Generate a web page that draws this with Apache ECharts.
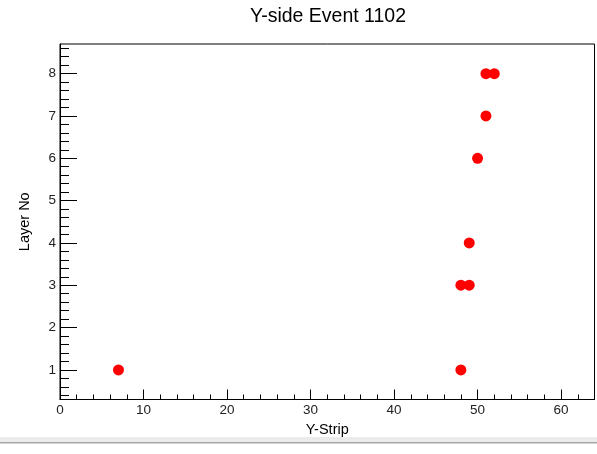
<!DOCTYPE html>
<html>
<head>
<meta charset="utf-8">
<title>Y-side Event 1102</title>
<script src="https://cdn.jsdelivr.net/npm/echarts@6/dist/echarts.min.js"></script>
<style>
  html, body { margin: 0; padding: 0; background: #ffffff; }
  #chart { width: 597px; height: 454px; }
</style>
</head>
<body>
<div id="chart"></div>
<script>
// Hit positions for this event: strip number and layer number
const strips = [7, 48, 48, 49, 49, 50, 51, 51, 52];
const layers = [1, 1, 3, 3, 4, 6, 7, 8, 8];

// Axis ranges and tick values
const xRange = [0, 64];
const yRange = [0.3, 8.7];
const xMajorTicks = [0, 10, 20, 30, 40, 50, 60];
const xMinorTicks = [2, 4, 6, 8, 12, 14, 16, 18, 22, 24, 26, 28, 32, 34, 36, 38,
                     42, 44, 46, 48, 52, 54, 56, 58, 62];
const yMajorTicks = [1, 2, 3, 4, 5, 6, 7, 8];
const yMinorTicks = [0.4, 0.6, 0.8, 1.2, 1.4, 1.6, 1.8, 2.2, 2.4, 2.6, 2.8,
                     3.2, 3.4, 3.6, 3.8, 4.2, 4.4, 4.6, 4.8, 5.2, 5.4, 5.6, 5.8,
                     6.2, 6.4, 6.6, 6.8, 7.2, 7.4, 7.6, 7.8, 8.2, 8.4, 8.6];

const FONT = '"Liberation Sans", Arial, Helvetica, sans-serif';
const points = strips.map((s, i) => [s, layers[i]]);

const chart = echarts.init(document.getElementById('chart'), null, { renderer: 'canvas' });

const tickStyle = { color: '#000', width: 1 };

chart.setOption({
  animation: false,
  backgroundColor: '#ffffff',
  grid: {
    left: 60, right: 2.5, top: 44, bottom: 54.5,
    show: true, borderColor: '#000', borderWidth: 1, backgroundColor: 'transparent'
  },
  xAxis: [
    {
      type: 'value', min: xRange[0], max: xRange[1], position: 'bottom',
      name: 'Y-Strip', nameLocation: 'middle', nameGap: 17,
      nameTextStyle: { fontFamily: FONT, fontSize: 14.5, color: '#000' },
      axisLine: { show: true, lineStyle: { color: '#000', width: 1 } },
      axisTick: { show: true, inside: true, length: 10, customValues: xMajorTicks, lineStyle: tickStyle },
      axisLabel: { customValues: xMajorTicks, margin: 4, fontFamily: FONT, fontSize: 13.5, color: '#222' },
      splitLine: { show: false }
    },
    {
      type: 'value', min: xRange[0], max: xRange[1], position: 'bottom', gridIndex: 0,
      axisLine: { show: false },
      axisTick: { show: true, inside: true, length: 5, customValues: xMinorTicks, lineStyle: tickStyle },
      axisLabel: { show: false },
      splitLine: { show: false }
    }
  ],
  yAxis: [
    {
      type: 'value', min: yRange[0], max: yRange[1], position: 'left',
      name: 'Layer No', nameLocation: 'middle', nameGap: 28,
      nameTextStyle: { fontFamily: FONT, fontSize: 14.5, color: '#000' },
      axisLine: { show: true, lineStyle: { color: '#000', width: 1 } },
      axisTick: { show: true, inside: true, length: 17, customValues: yMajorTicks, lineStyle: tickStyle },
      axisLabel: { customValues: yMajorTicks, margin: 4, fontFamily: FONT, fontSize: 13.5, color: '#222' },
      splitLine: { show: false }
    },
    {
      type: 'value', min: yRange[0], max: yRange[1], position: 'left', gridIndex: 0,
      axisLine: { show: false },
      axisTick: { show: true, inside: true, length: 9, customValues: yMinorTicks, lineStyle: tickStyle },
      axisLabel: { show: false },
      splitLine: { show: false }
    }
  ],
  series: [
    {
      type: 'scatter',
      xAxisIndex: 0, yAxisIndex: 0,
      data: points,
      symbol: 'circle',
      symbolSize: 11,
      itemStyle: { color: '#ff0000', opacity: 1 }
    }
  ],
  graphic: [
    {
      type: 'text', x: 328, y: 17, silent: true,
      style: {
        text: 'Y-side Event 1102', fontFamily: FONT, fontSize: 19.5, fill: '#000',
        align: 'center', verticalAlign: 'middle'
      }
    },
    { type: 'rect', left: 0, top: 437, shape: { width: 597, height: 5 }, style: { fill: '#ebebeb' }, silent: true },
    { type: 'rect', left: 0, top: 442, shape: { width: 597, height: 1.5 }, style: { fill: '#a8a8a8' }, silent: true }
  ]
});
</script>
</body>
</html>
